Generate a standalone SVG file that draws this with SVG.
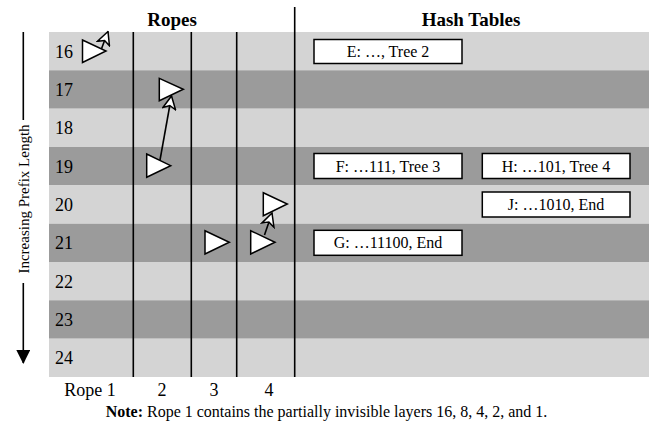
<svg xmlns="http://www.w3.org/2000/svg" width="649" height="432" viewBox="0 0 649 432">
<defs>
<style>
text{font-family:"Liberation Serif","Times New Roman",serif;fill:#000}
.lt{fill:#d4d4d4}
.dk{fill:#9b9b9b}
.vl{stroke:#000;stroke-width:1.6;fill:none}
.tri{fill:#fff;stroke:#000;stroke-width:1.5;stroke-linejoin:miter}
.box{fill:#fff;stroke:#000;stroke-width:1.5}
.lbl{font-size:18px}
.bt{font-size:16px;text-anchor:middle}
.title{font-size:19px;font-weight:bold;text-anchor:middle}
.link{stroke:#000;stroke-width:1.6;fill:none;marker-end:url(#open)}
</style>
<marker id="open" viewBox="0 0 14 14" refX="13" refY="7" markerWidth="15" markerHeight="15" markerUnits="userSpaceOnUse" orient="auto">
<path d="M1,1 L13,7 L1,13 L4,7 z" fill="#fff" stroke="#000" stroke-width="1.4" stroke-linejoin="miter"/>
</marker>
<marker id="solid" viewBox="0 0 14 14" refX="13" refY="7" markerWidth="14" markerHeight="14" markerUnits="userSpaceOnUse" orient="auto">
<path d="M0,0 L14,7 L0,14 z" fill="#000"/>
</marker>
</defs>

<g id="bands">
<rect class="lt" x="49" y="32" width="600" height="38.4"/>
<rect class="dk" x="49" y="70.3" width="600" height="38.4"/>
<rect class="lt" x="49" y="108.7" width="600" height="38.4"/>
<rect class="dk" x="49" y="147" width="600" height="38.4"/>
<rect class="lt" x="49" y="185.3" width="600" height="38.4"/>
<rect class="dk" x="49" y="223.7" width="600" height="38.4"/>
<rect class="lt" x="49" y="262" width="600" height="38.4"/>
<rect class="dk" x="49" y="300.3" width="600" height="38.4"/>
<rect class="lt" x="49" y="338.7" width="600" height="38.3"/>
</g>

<g id="row-labels" class="lbl">
<text x="55" y="57.5">16</text>
<text x="55" y="95.8">17</text>
<text x="55" y="134.2">18</text>
<text x="55" y="172.5">19</text>
<text x="55" y="210.8">20</text>
<text x="55" y="249.2">21</text>
<text x="55" y="287.5">22</text>
<text x="55" y="325.8">23</text>
<text x="55" y="364.2">24</text>
</g>

<g id="dividers">
<line class="vl" x1="133.3" y1="32" x2="133.3" y2="377"/>
<line class="vl" x1="191.3" y1="32" x2="191.3" y2="377"/>
<line class="vl" x1="236.7" y1="32" x2="236.7" y2="377"/>
<line class="vl" x1="294.7" y1="7" x2="294.7" y2="377"/>
</g>

<g id="titles">
<text class="title" x="172" y="26">Ropes</text>
<text class="title" x="471" y="26">Hash Tables</text>
</g>

<g id="axis">
<line x1="23.3" y1="32" x2="23.3" y2="120" stroke="#000" stroke-width="1.6"/>
<line x1="23.3" y1="283" x2="23.3" y2="363" stroke="#000" stroke-width="1.6" marker-end="url(#solid)"/>
<text transform="translate(28.5,199) rotate(-90)" font-size="15" text-anchor="middle">Increasing Prefix Length</text>
</g>

<g id="connectors">
<line class="link" x1="101" y1="50" x2="108" y2="31.5"/>
<line class="link" x1="160" y1="160" x2="171.5" y2="96"/>
<line class="link" x1="264.5" y1="235" x2="272" y2="213"/>
</g>

<g id="rope1-16"><polygon class="tri" points="82.5,40 82.5,62.5 106,51"/></g>
<g id="rope2-17"><polygon class="tri" points="159.3,78.3 159.3,100.7 183.3,89.3"/></g>
<g id="rope2-19"><polygon class="tri" points="146.7,154 146.7,177.3 170.7,165.7"/></g>
<g id="rope4-20"><polygon class="tri" points="263.3,192.7 263.3,215.7 287.3,204"/></g>
<g id="rope3-21"><polygon class="tri" points="205,230.7 205,254 229.3,242.3"/></g>
<g id="rope4-21"><polygon class="tri" points="250.7,230.7 250.7,254 275,242.3"/></g>

<g id="ht-E"><rect class="box" x="314" y="39.5" width="148" height="24"/><text class="bt" x="388" y="57">E: …, Tree 2</text></g>
<g id="ht-F"><rect class="box" x="314" y="153.5" width="148" height="25"/><text class="bt" x="388" y="171.5">F: …111, Tree 3</text></g>
<g id="ht-H"><rect class="box" x="482.3" y="153.5" width="147.7" height="25"/><text class="bt" x="556" y="171.5">H: …101, Tree 4</text></g>
<g id="ht-J"><rect class="box" x="482.3" y="192" width="147.7" height="25"/><text class="bt" x="556" y="210">J: …1010, End</text></g>
<g id="ht-G"><rect class="box" x="314" y="230.3" width="148" height="25"/><text class="bt" x="388" y="248.3">G: …11100, End</text></g>

<g id="rope-labels" class="lbl" text-anchor="middle">
<text x="90" y="396">Rope 1</text>
<text x="162" y="396">2</text>
<text x="214" y="396">3</text>
<text x="269" y="396">4</text>
</g>

<text x="326.5" y="417" font-size="16" text-anchor="middle"><tspan font-weight="bold">Note:</tspan> Rope 1 contains the partially invisible layers 16, 8, 4, 2, and 1.</text>
</svg>
